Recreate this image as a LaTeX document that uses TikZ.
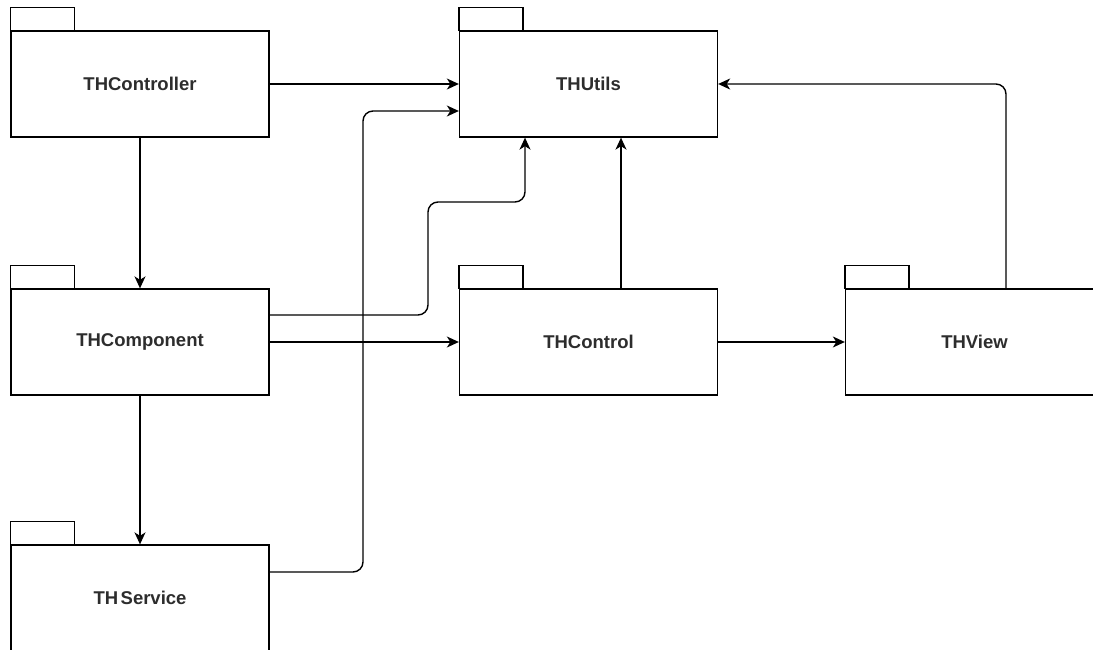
\documentclass[tikz,border=0pt]{standalone}
\usepackage{fontspec}
\setmainfont{Liberation Sans}
\usetikzlibrary{arrows.meta,calc}
\definecolor{txt}{RGB}{45,45,45}
\begin{document}
\begin{tikzpicture}[x=1pt,y=-1pt,
  line width=1.3pt,
  pkg/.style={draw=black, fill=white, minimum width=258pt, minimum height=106pt,
    inner sep=0pt, text=txt, font=\fontsize{18.5}{22}\selectfont\bfseries},
  tab/.style={draw=black, line width=1.3pt},
  link/.style={draw=black, line width=1.4pt, rounded corners=10pt,
    -{Stealth[length=12pt,width=11pt,inset=3.5pt]}}]
\useasboundingbox (0,0) rectangle (1093,650);
\clip (0,0) rectangle (1093,650);

% package bodies
\node[pkg] (ctrl)    at (140,84)    {THController};
\node[pkg] (utils)   at (588.5,84)  {THUtils};
\node[pkg] (comp)    at (140,342)   {THComponent};
\node[pkg] (control) at (588.5,342) {THControl};
\node[pkg] (view)    at (974.5,342) {THView};
\node[pkg] (svc)     at (140,598)   {TH\hspace{2.5pt}Service};

% package tabs
\foreach \n in {ctrl,utils,comp,control,view,svc}
  \draw[tab] (\n.north west) rectangle ++(64,-23);

% dependencies
\draw[link] (ctrl.east) -- (utils.west);
\draw[link] ([yshift=26pt]svc.east) -| (363,111) -- ([yshift=-27pt]utils.west);
\draw[link] ([yshift=27pt]comp.east) -| (428,202) -| ([xshift=-63.5pt]utils.south);
\draw[link] (comp.east) -- (control.west);
\draw[link] ([xshift=32.5pt]control.north) -- ([xshift=32.5pt]utils.south);
\draw[link] (control.east) -- (view.west);
\draw[link] ([xshift=31.5pt]view.north) |- (utils.east);
\draw[link] (ctrl.south) -- (comp.north);
\draw[link] (comp.south) -- (svc.north);
\end{tikzpicture}
\end{document}
